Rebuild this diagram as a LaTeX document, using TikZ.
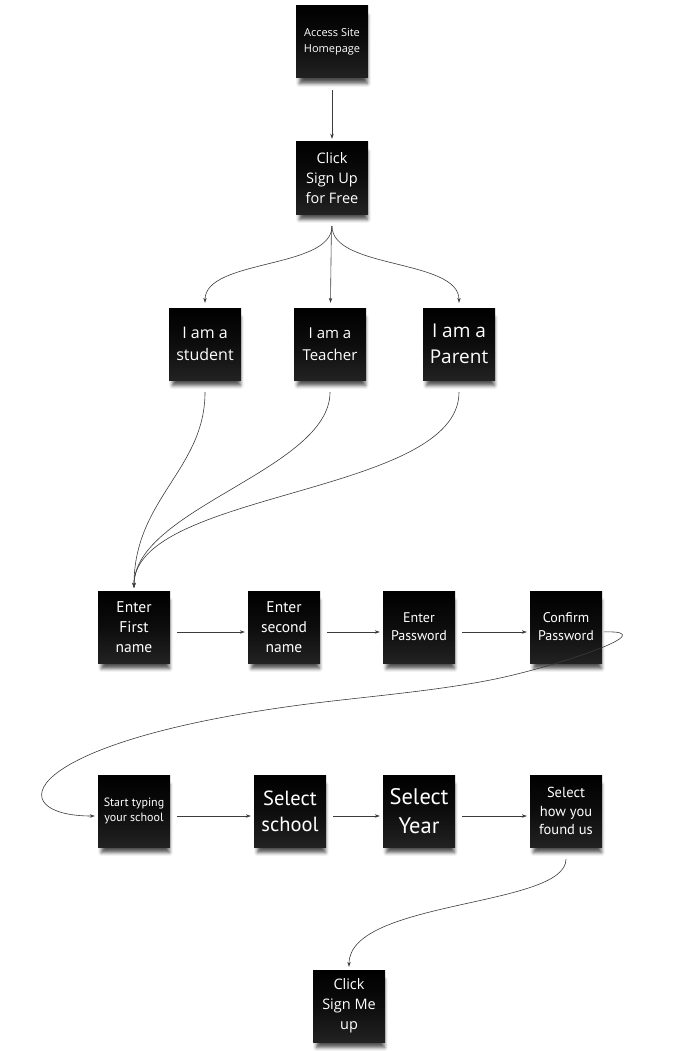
\documentclass[tikz,border=0pt]{standalone}
\usepackage{fontspec}
\setmainfont{Open Sans}
\newfontfamily\narrowfont{PT Sans}
\usetikzlibrary{arrows.meta,shadows.blur}
\definecolor{cardbot}{RGB}{34,34,34}
\definecolor{linkgray}{RGB}{60,60,60}
\tikzset{
  card/.style={minimum width=72pt, minimum height=72pt, inner sep=1pt, align=center,
    text=white, top color=black, bottom color=cardbot, middle color=black!95!white,
    blur shadow={shadow xshift=1.5pt, shadow yshift=-8pt, shadow opacity=70,
      shadow scale=0.94, shadow blur radius=4pt}},
  link/.style={->, draw=linkgray, line width=0.6pt, shorten <=7pt, shorten >=3pt},
  down/.style={link, shorten <=12pt},
}
\newcommand\fsize[2]{\fontsize{#1}{#2}\selectfont}

\begin{document}
\begin{tikzpicture}[x=1pt, y=-1pt, >={Stealth[length=5pt,width=3.5pt]}]
  \useasboundingbox (0,0) rectangle (686,1051);
  % top of the flow
  \node[card, font=\fsize{11}{16}] (H) at (332,42) {Access Site\\Homepage};
  \node[card, font=\fsize{14.5}{20}] (C) at (332,178) {Click\\Sign Up\\for Free};
  \node[card, font=\fsize{16}{22}] (W1) at (205,344) {I am a\\student};
  \node[card, font=\fsize{15}{22}] (W2) at (330,344) {I am a\\Teacher};
  \node[card, font=\fsize{19}{26}] (W3) at (459,344) {I am a\\Parent};
  % details rows
  \foreach \x/\px/\fs/\ls/\t in {1/134/15.5/20/Enter\\First\\name, 2/284/15.5/20/Enter\\second\\name,
      3/419/14/18/Enter\\Password, 4/566/14/18/Confirm\\Password}{
    \node[card, font=\narrowfont\fsize{\fs}{\ls}] (E\x) at (\px,627) {\t};
  }
  \foreach \x/\px/\fs/\ls/\t in {1/134/12/15/Start typing\\your school, 2/290/20.5/26/Select\\school,
      3/419/22.5/29/Select\\Year, 4/566/14.5/18.5/Select\\how you\\found us}{
    \node[card, font=\narrowfont\fsize{\fs}{\ls}] (S\x) at (\px,811) {\t};
  }
  \node[card, font=\fsize{14.5}{20}] (M) at (349,1006) {Click\\Sign Me\\up};

  \draw[down] (H) -- (C);
  \draw[down, shorten >=5pt] (C.south) .. controls +(0,55) and +(0,-49) .. (W1.north);
  \draw[down, shorten >=5pt] (C) -- (W2);
  \draw[down, shorten >=5pt] (C.south) .. controls +(0,55) and +(0,-49) .. (W3.north);
  \draw[down] (W1.south) .. controls +(0,89) and +(0,-92) .. (E1.north);
  \draw[down] (W2.south) .. controls +(0,89) and +(0,-82) .. (E1.north);
  \draw[down] (W3.south) .. controls +(0,115) and +(0,-100) .. (E1.north);
  \foreach \x/\y in {1/2, 2/3, 3/4}{
    \draw[link] ([yshift=-5pt]E\x.east) -- ([yshift=-5pt]E\y.west);
    \draw[link] ([yshift=-5pt]S\x.east) -- ([yshift=-5pt]S\y.west);
  }
  \draw[link, shorten <=2pt] ([yshift=-5pt]E4.east) .. controls +(63,-2) and (560,665) .. (500,678)
    .. controls (440,691) and (360,697) .. (300,705)
    .. controls (15,743) and (0,816) .. ([yshift=-5pt]S1.west);
  \draw[down] (S4.south) .. controls +(0,60) and +(0,-70) .. (M.north);
\end{tikzpicture}
\end{document}
